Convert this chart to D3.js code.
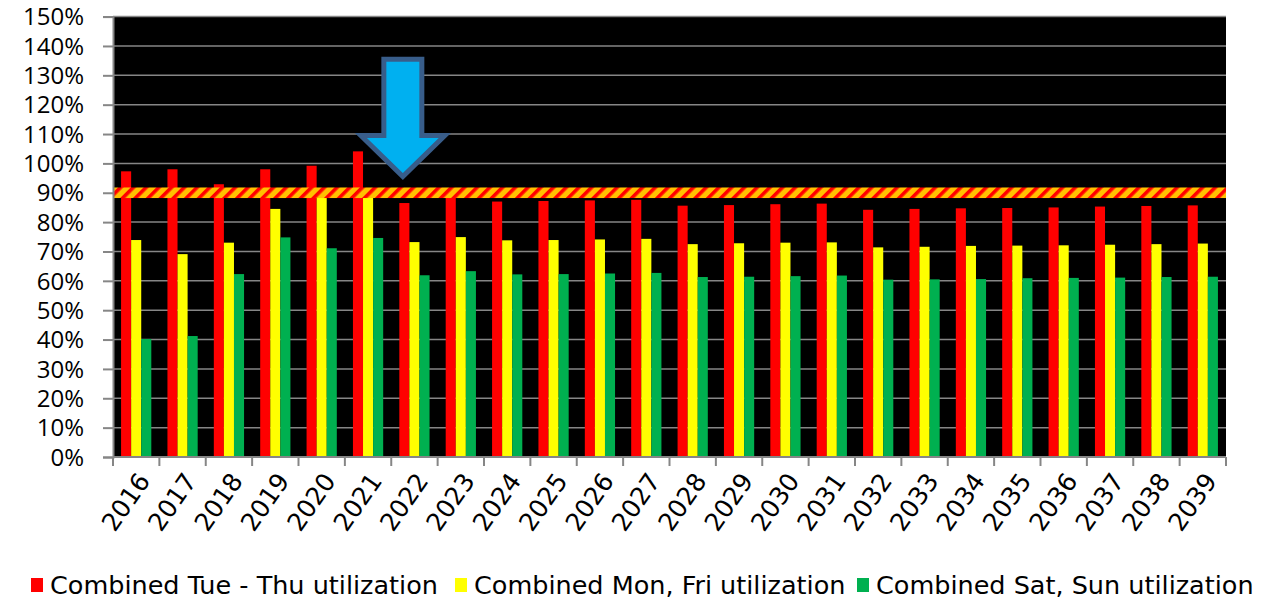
<!DOCTYPE html>
<html>
<head>
<meta charset="utf-8">
<script src="https://cdn.jsdelivr.net/npm/d3@7"></script>
<style>
  html, body { margin: 0; padding: 0; background: #ffffff; }
  svg { display: block; }
</style>
</head>
<body>
<svg id="chart" width="1264" height="602"></svg>
<script>
// Years on the category axis
const years = ["2016","2017","2018","2019","2020","2021","2022","2023","2024","2025","2026","2027",
               "2028","2029","2030","2031","2032","2033","2034","2035","2036","2037","2038","2039"];

// Utilization by day group (fraction of capacity)
const tueThu = [0.973, 0.980, 0.929, 0.980, 0.992, 1.041, 0.865, 0.890, 0.870, 0.872, 0.874, 0.876,
                0.856, 0.858, 0.861, 0.863, 0.842, 0.845, 0.847, 0.848, 0.850, 0.853, 0.855, 0.857];
const monFri = [0.739, 0.691, 0.730, 0.845, 0.890, 0.890, 0.732, 0.749, 0.738, 0.739, 0.741, 0.743,
                0.725, 0.728, 0.730, 0.731, 0.714, 0.716, 0.719, 0.720, 0.721, 0.723, 0.725, 0.727];
const satSun = [0.402, 0.412, 0.623, 0.748, 0.711, 0.746, 0.619, 0.633, 0.622, 0.623, 0.625, 0.627,
                0.613, 0.614, 0.616, 0.618, 0.604, 0.605, 0.606, 0.609, 0.610, 0.611, 0.613, 0.614];

const seriesNames = ["Combined Tue - Thu utilization", "Combined Mon, Fri utilization", "Combined Sat, Sun utilization"];
const seriesColors = ["#ff0000", "#ffff00", "#00b050"];
const seriesValues = [tueThu, monFri, satSun];

// Capacity threshold line and y-axis ticks
const threshold = 0.90;
const yTicks = d3.range(0, 16).map(i => i / 10);

const svg = d3.select("#chart");
const plot = { left: 113, right: 1226, top: 16.6, bottom: 457 };

const x = d3.scaleBand().domain(years).range([plot.left, plot.right]).padding(0);
const x1 = d3.scaleBand().domain(d3.range(seriesNames.length))
  .range([x.bandwidth() * 0.174, x.bandwidth() * 0.826]).padding(0);
const y = d3.scaleLinear().domain([0, 1.5]).range([plot.bottom, plot.top]);

// Stripe pattern for the threshold band
const defs = svg.append("defs");
const pat = defs.append("pattern")
  .attr("id", "hazard")
  .attr("patternUnits", "userSpaceOnUse")
  .attr("width", 9).attr("height", 9)
  .attr("patternTransform", "rotate(45)");
pat.append("rect").attr("width", 9).attr("height", 9).attr("fill", "#ffc000");
pat.append("rect").attr("width", 3.6).attr("height", 9).attr("fill", "#ff0000");

// Plot background
svg.append("rect")
  .attr("x", plot.left).attr("y", plot.top)
  .attr("width", plot.right - plot.left).attr("height", plot.bottom - plot.top)
  .attr("fill", "#000000");

// Horizontal gridlines
svg.append("g")
  .selectAll("line")
  .data(yTicks.filter(d => d > 0))
  .join("line")
  .attr("x1", plot.left).attr("x2", plot.right)
  .attr("y1", d => y(d)).attr("y2", d => y(d))
  .attr("stroke", "#868686").attr("stroke-width", 1.5);

// Bars
const groups = svg.append("g")
  .selectAll("g")
  .data(years)
  .join("g")
  .attr("transform", d => `translate(${x(d)},0)`);

groups.selectAll("rect")
  .data((d, i) => seriesValues.map((vals, s) => ({ s, v: vals[i] })))
  .join("rect")
  .attr("x", d => x1(d.s))
  .attr("width", x1.bandwidth())
  .attr("y", d => y(d.v))
  .attr("height", d => y(0) - y(d.v))
  .attr("fill", d => seriesColors[d.s]);

// Threshold band at 90%
const bandHalf = 0.018;
svg.append("rect")
  .attr("x", plot.left).attr("width", plot.right - plot.left)
  .attr("y", y(threshold + bandHalf))
  .attr("height", y(threshold - bandHalf) - y(threshold + bandHalf))
  .attr("fill", "url(#hazard)");

// Y axis
const yAxis = d3.axisLeft(y).tickValues(yTicks).tickFormat(d3.format(".0%")).tickSize(10).tickPadding(19);
const gy = svg.append("g").attr("transform", `translate(${plot.left},0)`).call(yAxis);
gy.select(".domain").attr("stroke", "#868686").attr("stroke-width", 2);
gy.selectAll(".tick line").attr("stroke", "#868686").attr("stroke-width", 2);
gy.selectAll(".tick text")
  .attr("font-family", "'Open Sans', sans-serif")
  .attr("font-size", 24)
  .attr("dy", "0.34em")
  .attr("fill", "#000");

// X axis: ticks at category boundaries
const boundaries = years.map(d => x(d)).concat([plot.right]);
svg.append("line")
  .attr("x1", plot.left).attr("x2", plot.right)
  .attr("y1", y(0)).attr("y2", y(0))
  .attr("stroke", "#868686").attr("stroke-width", 2);
svg.append("g").selectAll("line")
  .data(boundaries)
  .join("line")
  .attr("x1", d => d).attr("x2", d => d)
  .attr("y1", y(0)).attr("y2", y(0) + 9)
  .attr("stroke", "#868686").attr("stroke-width", 2);

svg.append("g").selectAll("text")
  .data(years)
  .join("text")
  .attr("transform", d => `translate(${x(d) + x.bandwidth() / 2 + 15},${y(0) + 24}) rotate(-55)`)
  .attr("text-anchor", "end")
  .attr("font-family", "'DejaVu Sans', sans-serif")
  .attr("font-size", 25)
  .attr("fill", "#000")
  .text(d => d);

// Down arrow marking the 2021/2022 transition
const ax = x("2022") + x.bandwidth() * 0.25;
const shaftHalf = 19, headHalf = 42;
const topY = y(1.355), shoulderY = y(1.095), tipY = y(0.955);
const arrowPts = [
  [ax - shaftHalf, topY], [ax + shaftHalf, topY], [ax + shaftHalf, shoulderY],
  [ax + headHalf, shoulderY], [ax, tipY], [ax - headHalf, shoulderY], [ax - shaftHalf, shoulderY]
];
svg.append("path")
  .attr("d", d3.line()(arrowPts) + "Z")
  .attr("fill", "#00b0f0")
  .attr("stroke", "#385d8a")
  .attr("stroke-width", 5)
  .attr("stroke-linejoin", "miter");

// Legend
const legendItems = [
  { name: seriesNames[0], color: seriesColors[0], x: 31 },
  { name: seriesNames[1], color: seriesColors[1], x: 455 },
  { name: seriesNames[2], color: seriesColors[2], x: 857 }
];
const lg = svg.append("g").selectAll("g").data(legendItems).join("g")
  .attr("transform", d => `translate(${d.x},0)`);
lg.append("rect").attr("x", 0).attr("y", 578).attr("width", 12).attr("height", 14)
  .attr("fill", d => d.color);
lg.append("text").attr("x", 19).attr("y", 594)
  .attr("font-family", "'DejaVu Sans', sans-serif")
  .attr("font-size", 25.5)
  .attr("fill", "#000")
  .text(d => d.name);
</script>
</body>
</html>
